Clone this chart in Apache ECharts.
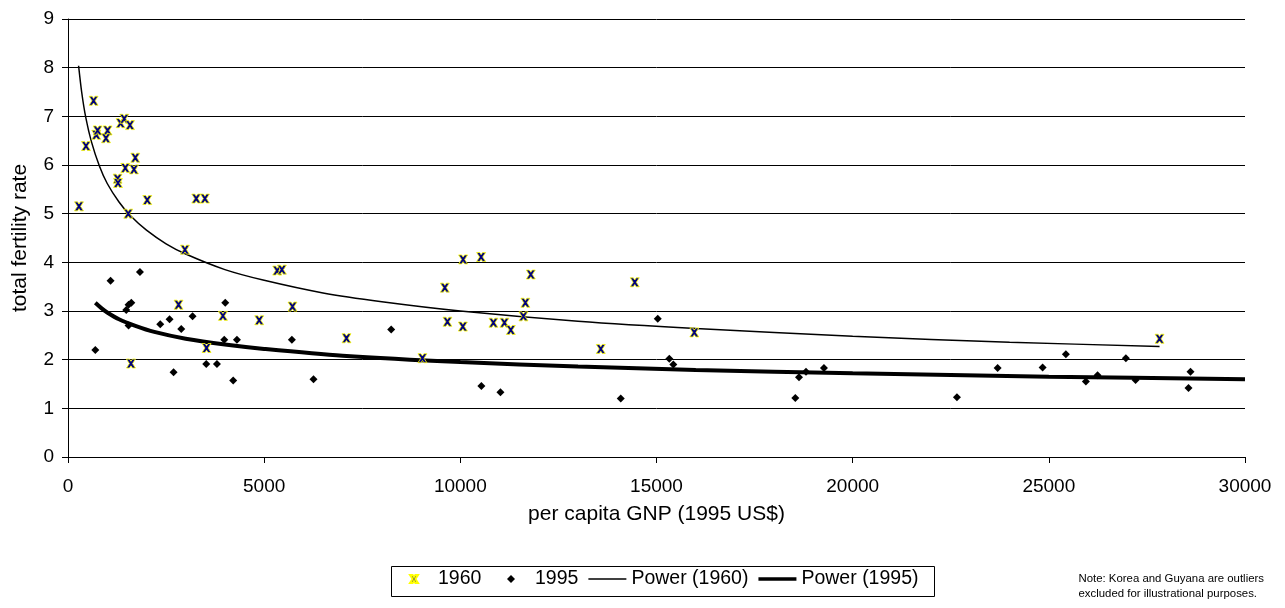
<!DOCTYPE html>
<html>
<head>
<meta charset="utf-8">
<script src="https://cdn.jsdelivr.net/npm/echarts@6/dist/echarts.min.js"></script>
<style>
  html, body { margin: 0; padding: 0; background: #fff; }
  #chart { width: 1285px; height: 608px; }
</style>
</head>
<body>
<div id="chart"></div>
<script>
// 1960 observations: per capita GNP (1995 US$) / total fertility rate
var gnp1960 = [652, 459, 721, 754, 1009, 968, 1340, 1434, 1580, 1715, 1460, 1682, 1264, 1274, 280,
    2020, 3269, 3490, 1536, 2981, 5332, 5452, 2818, 5722, 3949, 4874, 3531, 1605,
    10071, 10530, 9605, 11796, 11658, 11608, 9671, 10064, 10843, 11124, 11287, 14446, 15964,
    13580, 7098, 9034, 27822];
var tfr1960 = [7.32, 6.39, 6.62, 6.71, 6.71, 6.55, 6.86, 6.95, 6.82, 6.15, 5.94, 5.91, 5.72, 5.63, 5.15,
    5.28, 5.31, 5.31, 5.00, 4.26, 3.83, 3.85, 3.13, 3.09, 2.90, 2.81, 2.24, 1.92,
    4.06, 4.11, 3.48, 3.75, 3.17, 2.89, 2.78, 2.68, 2.76, 2.76, 2.61, 3.59, 2.56,
    2.22, 2.44, 2.03, 2.43];

// 1995 observations
var gnp1995 = [1834, 1085, 1613, 1544, 1485, 4008, 1544, 2352, 2589, 3175, 2887, 3982, 4306, 5707,
    696, 3524, 3796, 2690, 4211, 6257, 8237, 10537, 11022, 14089, 15032, 15327, 15429,
    18538, 18632, 18810, 19268, 22657, 23694, 24841, 25434, 25944, 26242, 26963, 27210, 28611, 28560];
var tfr1995 = [3.80, 3.62, 3.17, 3.13, 3.02, 3.17, 2.70, 2.73, 2.83, 2.89, 2.63, 2.41, 2.41, 2.41,
    2.20, 1.91, 1.91, 1.74, 1.57, 1.60, 2.62, 1.46, 1.33, 1.20, 2.84, 2.02, 1.90,
    1.21, 1.64, 1.75, 1.83, 1.23, 1.83, 1.84, 2.11, 1.55, 1.68, 2.03, 1.58, 1.75, 1.42];

// power trend lines
var fitX1960 = [270, 350, 450, 600, 800, 1000, 1300, 1600, 2000, 2500, 3000, 4000, 5000, 6500, 8000,
    10000, 13000, 16000, 20000, 24000, 27822];
var fit1960 = [8.04, 7.49, 6.99, 6.47, 5.98, 5.62, 5.24, 4.95, 4.66, 4.38, 4.17, 3.85, 3.63, 3.37, 3.19,
    3.00, 2.79, 2.64, 2.48, 2.36, 2.27];
var fitX1995 = [696, 850, 1000, 1300, 1700, 2200, 3000, 4000, 5000, 7000, 10000, 13000, 16000, 20000, 25000, 30000];
var fit1995 = [3.17, 3.06, 2.97, 2.83, 2.70, 2.57, 2.43, 2.31, 2.22, 2.08, 1.95, 1.86, 1.79, 1.72, 1.65, 1.60];

var xTicks = [0, 5000, 10000, 15000, 20000, 25000, 30000];

function pairs(xs, ys) {
    var out = [];
    for (var i = 0; i < xs.length; i++) out.push([xs[i], ys[i]]);
    return out;
}

var FONT = "'Liberation Sans', Arial, sans-serif";
// Excel style "x" marker
var crossPath = 'path://M0,0 L3,0 L4.5,2.2 L6,0 L9,0 L6.1,4.5 L9,9 L6,9 L4.5,6.8 L3,9 L0,9 L2.9,4.5 Z';
var diamondPath = 'path://M4,0 L8,4 L4,8 L0,4 Z';

var legendBase = {
    top: 569,
    orient: 'horizontal',
    padding: 0,
    itemWidth: 38,
    itemHeight: 8,
    itemGap: 10,
    textStyle: { fontSize: 19.5, color: '#000', fontFamily: FONT }
};

var chart = echarts.init(document.getElementById('chart'), null, { renderer: 'canvas' });
chart.setOption({
    animation: false,
    backgroundColor: '#fff',
    textStyle: { fontFamily: FONT, color: '#000' },
    grid: { left: 68, right: 40, top: 19, bottom: 151 },
    xAxis: {
        type: 'value',
        min: xTicks[0],
        max: xTicks[xTicks.length - 1],
        interval: 5000,
        name: 'per capita GNP (1995 US$)',
        nameLocation: 'middle',
        nameGap: 47,
        nameTextStyle: { fontSize: 21, color: '#000', fontFamily: FONT },
        axisLine: { lineStyle: { color: '#000', width: 1 } },
        axisTick: { show: true, length: 6, lineStyle: { color: '#000' } },
        axisLabel: {
            fontSize: 19, color: '#000', margin: 20, fontFamily: FONT,
            formatter: function (v) { return String(v); }
        },
        splitLine: { show: false }
    },
    yAxis: {
        type: 'value',
        min: 0,
        max: 9,
        interval: 1,
        name: 'total fertility rate',
        nameLocation: 'middle',
        nameRotate: 90,
        nameGap: 37,
        nameTextStyle: { fontSize: 21, color: '#000', fontFamily: FONT },
        axisLine: { show: true, lineStyle: { color: '#000', width: 1 } },
        axisTick: { show: true, length: 6, lineStyle: { color: '#000' } },
        axisLabel: { fontSize: 19, color: '#000', margin: 14, fontFamily: FONT },
        splitLine: { show: true, lineStyle: { color: '#000', width: 1 } }
    },
    legend: [
        Object.assign({}, legendBase, {
            left: 409,
            data: [{ name: '1960', icon: crossPath }]
        }),
        Object.assign({}, legendBase, {
            left: 507,
            data: [
                { name: '1995', icon: diamondPath },
                { name: 'Power (1960)', icon: 'path://M0,0 L38,0 L38,1.4 L0,1.4 Z' },
                { name: 'Power (1995)', icon: 'path://M0,0 L38,0 L38,3.6 L0,3.6 Z' }
            ]
        })
    ],
    graphic: [
        {
            // legend frame
            type: 'rect',
            left: 389,
            top: 564,
            shape: { width: 543, height: 30 },
            style: { fill: 'none', stroke: '#000', lineWidth: 1 }
        },
        {
            type: 'text',
            right: 21,
            top: 571,
            style: {
                text: 'Note: Korea and Guyana are outliers\nexcluded for illustrational purposes.',
                fontSize: 11.4,
                lineHeight: 15,
                fontFamily: FONT,
                fill: '#000',
                align: 'right'
            }
        }
    ],
    series: [
        {
            name: 'Power (1960)',
            type: 'line',
            data: pairs(fitX1960, fit1960),
            symbol: 'none',
            smooth: 0.3,
            lineStyle: { color: '#000', width: 1.5 },
            itemStyle: { color: '#000' },
            z: 2
        },
        {
            name: 'Power (1995)',
            type: 'line',
            data: pairs(fitX1995, fit1995),
            symbol: 'none',
            smooth: 0.3,
            lineStyle: { color: '#000', width: 4 },
            itemStyle: { color: '#000' },
            z: 2
        },
        {
            name: '1960',
            type: 'scatter',
            data: pairs(gnp1960, tfr1960),
            symbol: crossPath,
            symbolSize: 9,
            itemStyle: { color: '#000080', borderColor: '#ffff00', borderWidth: 0.8, opacity: 1 },
            z: 3
        },
        {
            name: '1995',
            type: 'scatter',
            data: pairs(gnp1995, tfr1995),
            symbol: 'diamond',
            symbolSize: 8,
            itemStyle: { color: '#000', opacity: 1 },
            z: 3
        }
    ]
});
</script>
</body>
</html>
